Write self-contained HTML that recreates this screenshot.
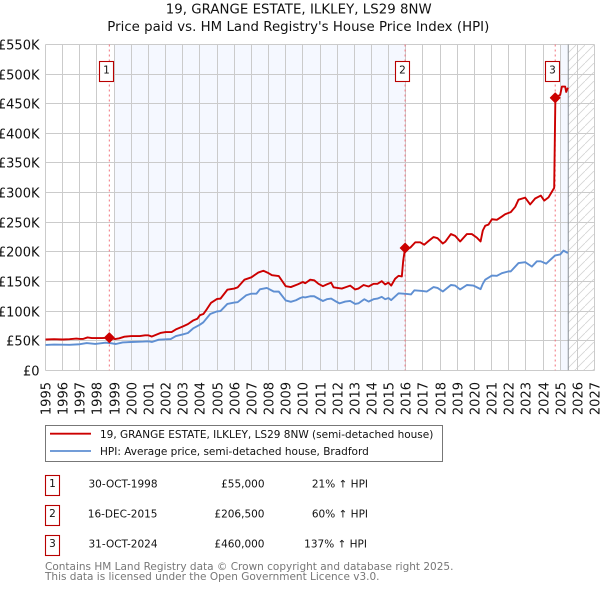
<!DOCTYPE html>
<html lang="en">
<head>
<meta charset="utf-8">
<title>19, Grange Estate, Ilkley price chart</title>
<style>
html,body{margin:0;padding:0;background:#fff;width:600px;height:590px;overflow:hidden}
svg{display:block}
text{font-family:"DejaVu Sans","Liberation Sans",sans-serif;fill:#111}
</style>
</head>
<body>
<svg id="chart" xmlns="http://www.w3.org/2000/svg" width="600" height="590" viewBox="0 0 600 590">
<defs>
<pattern id="hatch" width="9" height="9" patternUnits="userSpaceOnUse">
<path d="M-1 10 L10 -1" stroke="#d4d4d4" stroke-width="0.8" fill="none"/>
</pattern>
</defs>
<text x="298.7" y="13.5" text-anchor="middle" font-size="13.3" textLength="266" lengthAdjust="spacing">19, GRANGE ESTATE, ILKLEY, LS29 8NW</text>
<text x="298.3" y="31" text-anchor="middle" font-size="13.3" textLength="382" lengthAdjust="spacing">Price paid vs. HM Land Registry's House Price Index (HPI)</text>
<g id="plot"></g>

<g>
<rect x="45.5" y="425.5" width="397" height="36" fill="#fff" stroke="#777" stroke-width="1"/>
<line x1="50" x2="91" y1="433.7" y2="433.7" stroke="#cc0000" stroke-width="1.8"/>
<text x="100" y="438" font-size="10.5">19, GRANGE ESTATE, ILKLEY, LS29 8NW (semi-detached house)</text>
<line x1="50" x2="91" y1="451" y2="451" stroke="#5f8fd2" stroke-width="1.8"/>
<text x="100" y="455" font-size="10.5">HPI: Average price, semi-detached house, Bradford</text>
</g>

<g font-size="10.5">
<rect x="45.5" y="475.5" width="14" height="20" fill="#fff" stroke="#b80000" stroke-width="1.1"/>
<text x="52.5" y="487" text-anchor="middle" font-size="10.5">1</text>
<text x="157.5" y="487.5" text-anchor="end" font-size="10.5">30-OCT-1998</text>
<text x="264.5" y="487.5" text-anchor="end" font-size="10.5">£55,000</text>
<text x="368" y="487.5" text-anchor="end" font-size="10.5">21% ↑ HPI</text>
<rect x="45.5" y="505.5" width="14" height="20" fill="#fff" stroke="#b80000" stroke-width="1.1"/>
<text x="52.5" y="517" text-anchor="middle" font-size="10.5">2</text>
<text x="157.5" y="517.5" text-anchor="end" font-size="10.5">16-DEC-2015</text>
<text x="264.5" y="517.5" text-anchor="end" font-size="10.5">£206,500</text>
<text x="368" y="517.5" text-anchor="end" font-size="10.5">60% ↑ HPI</text>
<rect x="45.5" y="535.5" width="14" height="20" fill="#fff" stroke="#b80000" stroke-width="1.1"/>
<text x="52.5" y="547" text-anchor="middle" font-size="10.5">3</text>
<text x="157.5" y="547.5" text-anchor="end" font-size="10.5">31-OCT-2024</text>
<text x="264.5" y="547.5" text-anchor="end" font-size="10.5">£460,000</text>
<text x="367" y="547.5" text-anchor="end" font-size="10.5">137% ↑ HPI</text>
</g>

<text x="45" y="570" font-size="10.5" style="fill:#777">Contains HM Land Registry data © Crown copyright and database right 2025.</text>
<text x="45" y="580" font-size="10.5" style="fill:#777">This data is licensed under the Open Government Licence v3.0.</text>
</svg>

<script>
const xTickYears = [1995,1996,1997,1998,1999,2000,2001,2002,2003,2004,2005,2006,2007,2008,2009,2010,2011,2012,2013,2014,2015,2016,2017,2018,2019,2020,2021,2022,2023,2024,2025,2026,2027];
const yTickValues = [0,50,100,150,200,250,300,350,400,450,500,550];
const yTickLabels = ['£0','£50K','£100K','£150K','£200K','£250K','£300K','£350K','£400K','£450K','£500K','£550K'];

const priceYears = [1995,1995.5,1996,1996.4,1996.8,1997,1997.2,1997.45,1997.7,1998,1998.3,1998.72,1999.05,1999.3,1999.6,2000,2000.5,2000.8,2001,2001.2,2001.45,2001.7,2002,2002.35,2002.6,2003,2003.3,2003.6,2003.85,2004,2004.2,2004.4,2004.65,2005,2005.2,2005.6,2006,2006.2,2006.6,2007,2007.4,2007.7,2008,2008.2,2008.6,2009,2009.3,2009.7,2010,2010.14,2010.43,2010.66,2010.91,2011.17,2011.4,2011.65,2011.79,2012.02,2012.27,2012.47,2012.76,2013.05,2013.24,2013.54,2013.83,2014.12,2014.35,2014.6,2014.8,2014.99,2015.15,2015.38,2015.58,2015.77,2015.85,2015.96,2016.26,2016.55,2016.84,2017.07,2017.32,2017.62,2017.85,2018.16,2018.3,2018.63,2018.88,2019.17,2019.56,2019.85,2020.14,2020.36,2020.49,2020.63,2020.82,2021.02,2021.31,2021.6,2021.79,2022.12,2022.38,2022.57,2022.96,2023.25,2023.54,2023.87,2024.07,2024.32,2024.65,2024.72,2025,2025.1,2025.29,2025.35,2025.45];
const priceValues = [52,52.5,52,52.5,53.5,53,53,55.5,54.5,54.5,54.5,55,52.8,54,56.7,57.8,57.8,59,59,57,60,63,64.5,64.5,69,74,78,84,87,93,95,103,114,120.5,121,136,138,140,153,157,165,168,164,160.5,159,142,140.5,145,149,147,153,152,146,142,145,148,140,139,138,140,143,136.5,138,144,141.5,146,146,150.5,145,148,143,154.5,159.5,158.5,185,206.5,207,216,216,212,218,225,223,214,217,230,227,217.5,230,230,224,217.5,236,244,246,255,254,259.5,263.5,267,276,288,291.5,280,290,295,286.5,292,308,460,465,479,479,470,477];

const hpiYears = [1995,1995.5,1996,1996.4,1997,1997.4,1997.9,1998.5,1998.8,1999.1,1999.5,2000,2000.7,2001,2001.2,2001.6,2002.3,2002.6,2003,2003.3,2003.6,2004,2004.2,2004.6,2005,2005.2,2005.6,2006,2006.2,2006.7,2007,2007.3,2007.5,2007.9,2008.3,2008.6,2009,2009.3,2009.6,2009.85,2010,2010.14,2010.43,2010.66,2010.91,2011.17,2011.4,2011.65,2011.88,2012.14,2012.47,2012.76,2013.05,2013.24,2013.58,2013.83,2014.12,2014.35,2014.6,2014.8,2014.99,2015.15,2015.58,2016.06,2016.3,2016.5,2016.94,2017.23,2017.62,2017.85,2018.16,2018.63,2018.88,2019.17,2019.56,2019.95,2020.36,2020.49,2020.63,2021.02,2021.31,2021.6,2021.99,2022.12,2022.57,2022.96,2023.35,2023.64,2023.87,2024.18,2024.71,2025,2025.19,2025.45];
const hpiValues = [42.8,43.5,43.3,43,44,46,44.5,46.7,45.8,44.4,47,47.8,48.5,49,47.8,51.7,52.8,57.8,60.6,63,70.6,77,81,95,99.4,100,112,114.4,115,126.7,129.4,129.4,136.7,139,133,132.8,118,115.6,118.3,122,123.6,123,125,125,121,117,120,121,117,113,116,117,112,113,120,116,120,121,124,120,122,118.5,130,129,128,135,134,133,140.5,139,133,144,143,136.5,144,143,137,146,153,160,159.5,164,167,167,181,182.6,175,184,184,180,194,195.5,202,198];

const saleYears = [1998.72,2015.96,2024.71];
const saleValues = [55,206.5,460];
const saleLabels = ['1','2','3'];

const SVGNS = 'http://www.w3.org/2000/svg';
const plot = document.getElementById('plot');
const xLeft = 45.5, xRight = 594.5, yTop = 44.5, yBottom = 370.3;
const sx = v => xLeft + (v - 1995) * (xRight - xLeft) / 32;
const sy = v => yBottom - v * (yBottom - yTop) / 550;
const snap = p => Math.round(p - 0.5) + 0.5;

function make(tag, attrs, parent) {
  const el = document.createElementNS(SVGNS, tag);
  for (const k in attrs) el.setAttribute(k, attrs[k]);
  (parent || plot).appendChild(el);
  return el;
}

/* shaded periods */
const shadeA = make('rect', {x: sx(1999), y: yTop, width: sx(saleYears[1]) - sx(1999), height: yBottom - yTop, fill: '#f5f8ff'});


const shadeB = make('rect', {x: sx(2025), y: yTop, width: sx(2025.47) - sx(2025), height: yBottom - yTop, fill: '#f5f8ff'});


const hatch = make('rect', {x: sx(2025.47), y: yTop, width: xRight - sx(2025.47), height: yBottom - yTop, fill: 'url(#hatch)'});



/* grid and ticks */
xTickYears.forEach(yr => {
  const px = snap(sx(yr));
  const g = make('line', {x1: px, x2: px, y1: yTop, y2: yBottom + 0.2, stroke: '#cbcbcb', 'stroke-width': 1});
  
  
  const t = make('text', {x: 0, y: 0, 'font-size': 13, 'text-anchor': 'end', transform: 'translate(' + (px + 4.8) + ',382) rotate(-90)'});
  
  
  t.textContent = String(yr);
});
yTickValues.forEach((v, i) => {
  const py = snap(sy(v));
  const g = make('line', {x1: xLeft, x2: xRight, y1: py, y2: py, stroke: '#cbcbcb', 'stroke-width': 1});
  
  
  const t = make('text', {x: 39.5, y: py + 4.8, 'font-size': 13, 'text-anchor': 'end'});
  
  
  t.textContent = yTickLabels[i];
});

/* now marker */
const nowLine = make('line', {x1: sx(2025.47), x2: sx(2025.47), y1: yTop, y2: yBottom, stroke: '#8a8f96', 'stroke-width': 1});



/* sale dashed lines */
saleYears.forEach(yr => {
  const l = make('line', {x1: sx(yr), x2: sx(yr), y1: yTop, y2: yBottom, stroke: '#f2707a', 'stroke-width': 1, 'stroke-dasharray': '2 3'});
  
  
});

function pathOf(xs, ys) {
  return xs.map((yr, i) => (i ? 'L' : 'M') + sx(yr).toFixed(2) + ' ' + sy(ys[i]).toFixed(2)).join(' ');
}
const hpiLine = make('path', {d: pathOf(hpiYears, hpiValues), fill: 'none', stroke: '#5f8fd2', 'stroke-width': 1.9, 'stroke-linejoin': 'round'});


const priceLine = make('path', {d: pathOf(priceYears, priceValues), fill: 'none', stroke: '#cc0000', 'stroke-width': 1.9, 'stroke-linejoin': 'round'});



/* sale markers and flags */
saleYears.forEach((yr, i) => {
  const cx = sx(yr), cy = sy(saleValues[i]), r = 5;
  const d = make('polygon', {points: [cx - r, cy, cx, cy - r, cx + r, cy, cx, cy + r].join(','), fill: '#cc0000', stroke: '#cc0000', 'stroke-width': 0.8, 'stroke-linejoin': 'round'});
  
  
  const bx = Math.round(cx - 10.5) + 0.5;
  const b = make('rect', {x: bx, y: 61.5, width: 14, height: 20, fill: '#fff', stroke: '#b80000', 'stroke-width': 1.1});
  
  
  const t = make('text', {x: bx + 7, y: 73.5, 'font-size': 10.5, 'text-anchor': 'middle'});
  
  
  t.textContent = saleLabels[i];
});
</script>
</body>
</html>
